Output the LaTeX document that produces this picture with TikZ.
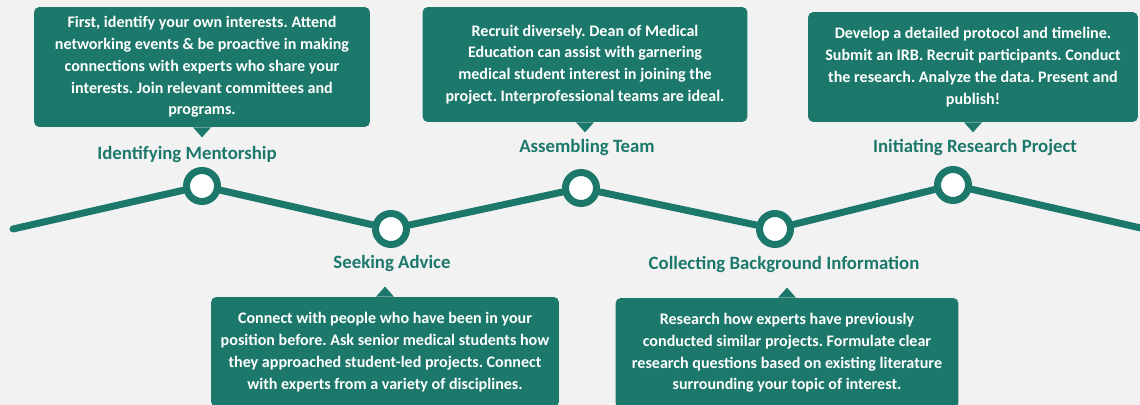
\documentclass[tikz,border=0pt]{standalone}
\usepackage{fontspec}
\setmainfont{Carlito}
\usepackage{xcolor}
\usetikzlibrary{calc}
\definecolor{pagebg}{HTML}{F2F2F2}
\definecolor{tealmain}{HTML}{1B786A}
\tikzset{
    infobox/.style={fill=tealmain, rounded corners=3pt, text=white, align=center, inner sep=0pt, font=\fontsize{9.15pt}{12.4pt}\selectfont\bfseries},
    steplabel/.style={text=tealmain, inner sep=0pt, font=\fontsize{10.7pt}{13pt}\selectfont\bfseries},
    milestone/.style={circle, draw=tealmain, fill=white, line width=0.14cm, minimum size=0.62cm, inner sep=0pt},
    trackline/.style={draw=tealmain, line width=0.14cm, line cap=round, line join=round},
}
\frenchspacing

\begin{document}
\begin{tikzpicture}[x=0.02cm, y=-0.02cm]

\fill[pagebg] (0,0) rectangle (1140,405);
\clip (0,0) rectangle (1140,405);

% ============================================================
% TRACK
% ============================================================
\node[milestone] (m1) at (202,186) {};
\node[milestone] (m2) at (391,229) {};
\node[milestone] (m3) at (581,188) {};
\node[milestone] (m4) at (775,229) {};
\node[milestone] (m5) at (953,185) {};
\coordinate (tstart) at (13,229);
\coordinate (tend) at (1145,229);

\draw[trackline] (tstart) -- (m1);
\draw[trackline] (m1) -- (m2);
\draw[trackline] (m2) -- (m3);
\draw[trackline] (m3) -- (m4);
\draw[trackline] (m4) -- (m5);
\draw[trackline] (m5) -- (tend);

% ============================================================
% STEP LABELS
% ============================================================
\node[steplabel] (l1) at (187,154) {Identifying Mentorship};
\node[steplabel] (l2) at (392,263) {Seeking Advice};
\node[steplabel] (l3) at (587,147) {Assembling Team};
\node[steplabel] (l4) at (784,264) {Collecting Background Information};
\node[steplabel] (l5) at (975,147) {Initiating Research Project};

% ============================================================
% UPPER BOXES
% ============================================================
\node[infobox, minimum width=6.72cm, minimum height=2.4cm] (b1) at (202,67) {
    First, identify your own interests. Attend\\
    networking events \& be proactive in making\\
    connections with experts who share your\\
    interests. Join relevant committees and\\
    programs.};
\fill[tealmain] ($(b1.south)+(-9,0)$) -- ++(9,10) -- ++(9,-10) -- cycle;

\node[infobox, minimum width=6.5cm, minimum height=2.3cm] (b3) at (585,64.5) {
    Recruit diversely. Dean of Medical\\
    Education can assist with garnering\\
    medical student interest in joining the\\
    project. Interprofessional teams are ideal.};
\fill[tealmain] ($(b3.south)+(-9,0)$) -- ++(9,10) -- ++(9,-10) -- cycle;

\node[infobox, minimum width=6.6cm, minimum height=2.2cm] (b5) at (973,67) {
    Develop a detailed protocol and timeline.\\
    Submit an IRB. Recruit participants. Conduct\\
    the research. Analyze the data. Present and\\
    publish!};
\fill[tealmain] ($(b5.south)+(-9,0)$) -- ++(9,10) -- ++(9,-10) -- cycle;

% ============================================================
% LOWER BOXES
% ============================================================
\node[infobox, minimum width=6.96cm, minimum height=2.2cm] (b2) at (385,352) {
    Connect with people who have been in your\\
    position before. Ask senior medical students how\\
    they approached student-led projects. Connect\\
    with experts from a variety of disciplines.};
\fill[tealmain] ($(b2.north)+(-9,0)$) -- ++(9,-10) -- ++(9,10) -- cycle;

\node[infobox, minimum width=6.86cm, minimum height=2.2cm] (b4) at (787,353) {
    Research how experts have previously\\
    conducted similar projects. Formulate clear\\
    research questions based on existing literature\\
    surrounding your topic of interest.};
\fill[tealmain] ($(b4.north)+(-9,0)$) -- ++(9,-10) -- ++(9,10) -- cycle;

\end{tikzpicture}
\end{document}
